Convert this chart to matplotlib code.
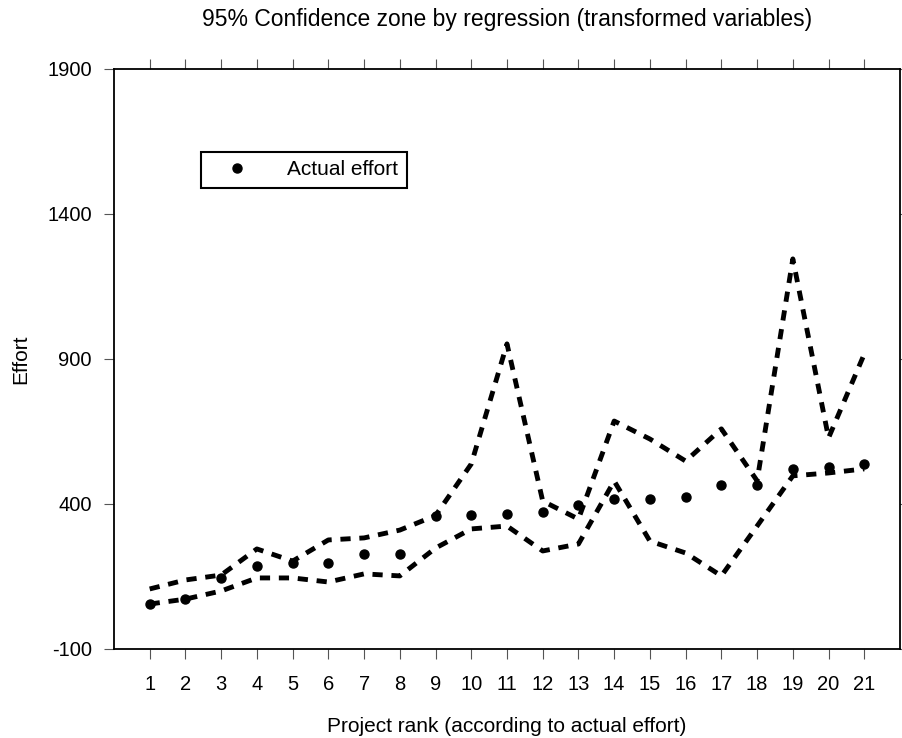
import numpy as np
import matplotlib
matplotlib.use("Agg")
import matplotlib.pyplot as plt

plt.rcParams['font.family'] = ['Liberation Sans', 'DejaVu Sans']
plt.rcParams['axes.unicode_minus'] = False

# project rank 1..21
rank = list(range(1, 22))

# actual effort (dots)
actual = [55, 72, 145, 186, 196, 196, 228, 228, 359, 362, 365,
          372, 397, 417, 417, 424, 466, 466, 521, 528, 538]

# 95% confidence limits (dashed)
upper = [107, 138, 155, 245, 203, 276, 283, 310, 360, 538, 952,
         410, 348, 686, 624, 548, 659, 480, 1245, 628, 917]
lower = [55, 72, 100, 145, 145, 131, 159, 152, 248, 314, 324,
         238, 262, 479, 272, 231, 152, 324, 497, 507, 521]

yticks = [-100, 400, 900, 1400, 1900]

fig = plt.figure(figsize=(9.03, 7.38), dpi=100)
ax = fig.add_axes([0.1262, 0.1206, 0.8705, 0.786])

for series in (upper, lower):
    ax.plot(rank, series, color='black', linewidth=3.5,
            linestyle=(0, (2.1, 1.8)), solid_capstyle='butt')
ax.plot(rank, actual, 'o', color='black', markersize=6.5,
        linestyle='none', label='Actual effort')

ax.set_xlim(0, 22)
ax.set_ylim(-100, 1900)
ax.set_xticks(rank)
ax.set_yticks(yticks)
ax.tick_params(axis='both', labelsize=14.5, direction='out', length=7, width=0.8, color='#555555')
ax.tick_params(axis='x', top=True, pad=12)
ax.tick_params(axis='y', right=True, pad=9)
for side in ax.spines.values():
    side.set_linewidth(1.3)

ax.set_title('95% Confidence zone by regression (transformed variables)',
             fontsize=16.5, pad=31)
ax.set_xlabel('Project rank (according to actual effort)', fontsize=15, labelpad=16)
ax.set_ylabel('Effort', fontsize=15, labelpad=12)

leg = ax.legend(loc='upper left', bbox_to_anchor=(0.1107, 0.857), fontsize=15,
                fancybox=False, edgecolor='black', framealpha=1, borderaxespad=0,
                borderpad=0.4, handletextpad=1.04, handlelength=2.7)
leg.get_frame().set_linewidth(1.5)

fig.savefig('out.png', dpi=100)
